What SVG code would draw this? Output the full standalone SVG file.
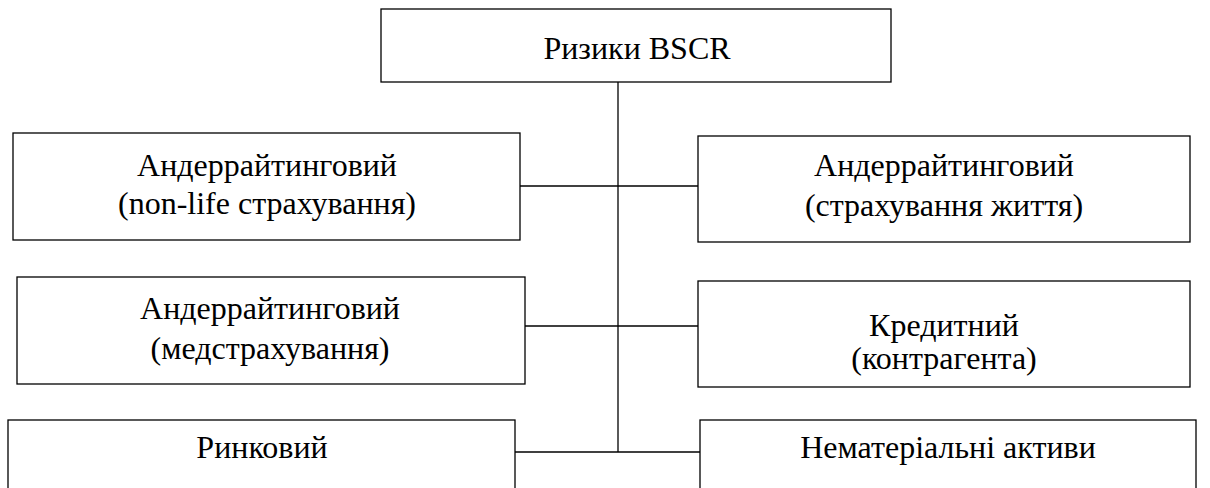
<svg xmlns="http://www.w3.org/2000/svg" width="1210" height="488" viewBox="0 0 1210 488">
<style>
.box{fill:#fff;stroke:#000;stroke-width:1.3}
.t{font-family:"Liberation Serif","Times New Roman",serif;font-size:32px;fill:#000;text-anchor:middle}
.c{stroke:#000;stroke-width:1.3;fill:none}
</style>
<rect width="1210" height="488" fill="#fff"/>
<g id="connectors">
<line class="c" x1="618" y1="82" x2="618" y2="452"/>
<line class="c" x1="520" y1="186" x2="700" y2="186"/>
<line class="c" x1="525" y1="326" x2="702" y2="326"/>
<line class="c" x1="515" y1="452" x2="700" y2="452"/>
</g>
<g id="root"><rect class="box" x="381" y="9" width="510" height="73"/><text class="t" x="637" y="59">Ризики BSCR</text></g>
<g id="nonlife"><rect class="box" x="13" y="133" width="507" height="107"/><text class="t" x="267" y="176">Андеррайтинговий</text><text class="t" x="267" y="214">(non-life страхування)</text></g>
<g id="life"><rect class="box" x="698" y="136" width="492" height="106"/><text class="t" x="944" y="176">Андеррайтинговий</text><text class="t" x="944" y="216">(страхування життя)</text></g>
<g id="health"><rect class="box" x="17" y="277" width="508" height="107"/><text class="t" x="270" y="319">Андеррайтинговий</text><text class="t" x="270" y="359">(медстрахування)</text></g>
<g id="credit"><rect class="box" x="698" y="281" width="492" height="106"/><text class="t" x="944" y="336">Кредитний</text><text class="t" x="944" y="369">(контрагента)</text></g>
<g id="market"><rect class="box" x="8" y="420" width="507" height="80"/><text class="t" x="262" y="458">Ринковий</text></g>
<g id="intangible"><rect class="box" x="700" y="420" width="496" height="80"/><text class="t" x="948" y="458">Нематеріальні активи</text></g>
</svg>
